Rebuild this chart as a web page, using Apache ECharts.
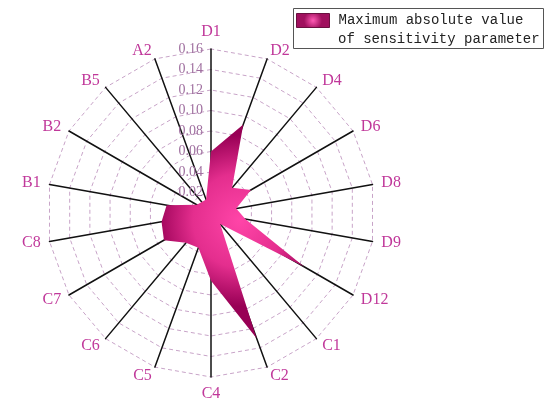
<!DOCTYPE html>
<html>
<head>
<meta charset="utf-8">
<script src="https://cdn.jsdelivr.net/npm/echarts@6/dist/echarts.min.js"></script>
<style>html,body{margin:0;padding:0;background:#fff}#c{width:550px;height:416px}</style>
</head>
<body>
<div id="c"></div>
<script>
// clockwise order from top
const categories = ['D1','D2','D4','D6','D8','D9','D12','C1','C2','C4','C5','C6','C7','C8','B1','B2','B5','A2'];
const values = [0.060,0.092,0.032,0.045,0.025,0.034,0.105,0.014,0.130,0.066,0.036,0.038,0.053,0.049,0.044,0.016,0.014,0.014];
const tickLabels = ['0.02','0.04','0.06','0.08','0.10','0.12','0.14','0.16'];
const seriesName = 'Maximum absolute value';
const seriesName2 = 'of sensitivity parameter';
const axisMax = 0.16;

// ECharts radar runs counter-clockwise; reorder so the picture reads clockwise
const order = [0].concat(categories.map((_, i) => i).slice(1).reverse());
const indicator = order.map((idx, k) => {
  const o = { name: categories[idx], max: axisMax, min: 0 };
  if (k === 0) o.axisLabel = { show: true };
  return o;
});
const orderedValues = order.map(idx => values[idx]);

const chart = echarts.init(document.getElementById('c'));
chart.setOption({
  animation: false,
  legend: {
    left: 291, top: 8,
    itemWidth: 33, itemHeight: 14,
    itemGap: 5,
    icon: 'rect',
    data: [seriesName],
    textStyle: { fontFamily: 'Liberation Mono', fontSize: 14, color: '#222', padding: [0, 0, 0, 4] },
    itemStyle: {
      color: new echarts.graphic.RadialGradient(0.5, 0.5, 0.6, [
        { offset: 0, color: '#ff5ab4' },
        { offset: 1, color: '#a0105e' }
      ]),
      borderColor: '#6a1040', borderWidth: 1
    }
  },
  graphic: [
    { type: 'rect', shape: { x: 293.5, y: 8.5, width: 250, height: 40 }, style: { fill: 'none', stroke: '#555', lineWidth: 1 } },
    { type: 'text', left: 338, top: 32, style: { text: seriesName2, font: '14px "Liberation Mono"', fill: '#222' } }
  ],
  radar: {
    center: [211, 213],
    radius: 164,
    startAngle: 90,
    shape: 'polygon',
    splitNumber: 8,
    indicator: indicator,
    axisName: { color: '#c0389a', fontFamily: 'Liberation Serif', fontSize: 16 },
    nameGap: 9,
    axisLine: { lineStyle: { color: '#111', width: 1.5 } },
    splitLine: { lineStyle: { color: '#c8a4c8', type: [4, 3], width: 1 } },
    splitArea: { show: false },
    axisTick: { show: false },
    axisLabel: {
      show: false, color: '#a070a0', fontFamily: 'Liberation Serif', fontSize: 14, showMinLabel: false,
      formatter: (v) => { const i = Math.round(v / 0.02) - 1; return tickLabels[i] || ''; }
    }
  },
  series: [{
    type: 'radar',
    name: seriesName,
    symbol: 'none',
    lineStyle: { width: 0 },
    itemStyle: { color: '#e0308a' },
    areaStyle: {
      opacity: 1,
      color: new echarts.graphic.RadialGradient(0.55, 0.45, 0.6, [
        { offset: 0, color: '#ff45a8' },
        { offset: 0.55, color: '#e42e8e' },
        { offset: 1, color: '#980055' }
      ])
    },
    data: [{ value: orderedValues, name: seriesName }]
  }]
});
</script>
</body>
</html>
